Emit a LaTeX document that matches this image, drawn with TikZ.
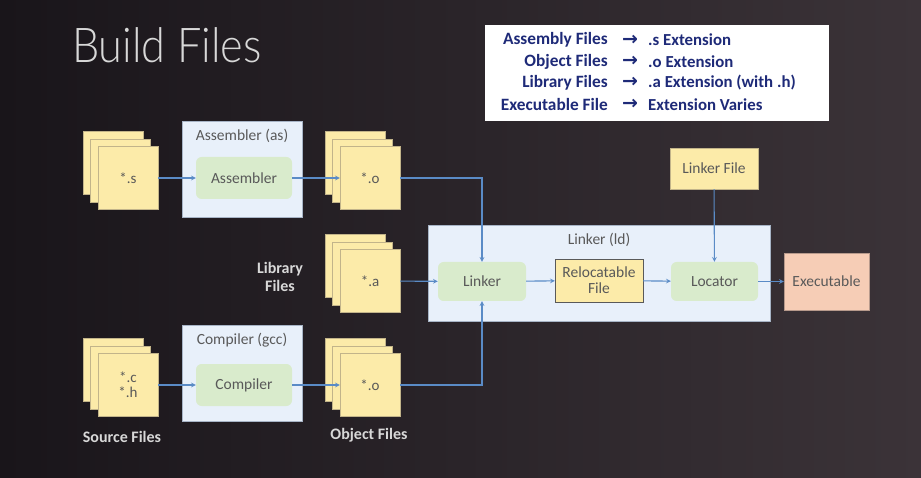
\documentclass[tikz,border=0pt]{standalone}
\usepackage{fontspec}
\setmainfont{Carlito}
\newfontfamily\titlefont{Lato Light}
\newfontfamily\arrowfont{DejaVu Sans}
\usepackage{tikz}
\usetikzlibrary{positioning}
\usetikzlibrary{arrows}
\definecolor{bgleft}{HTML}{19151A}
\definecolor{bgright}{HTML}{3B3338}
\definecolor{sheetfill}{HTML}{FCEBA9}
\definecolor{sheetline}{HTML}{C2B48A}
\definecolor{toolfill}{HTML}{E8F0FA}
\definecolor{toolline}{HTML}{A7B4C6}
\definecolor{stagefill}{HTML}{D9EBCC}
\definecolor{execfill}{HTML}{F6CDB6}
\definecolor{execline}{HTML}{B79A8C}
\definecolor{flowblue}{HTML}{5A8BC6}
\definecolor{boxtext}{HTML}{595959}
\definecolor{legendtext}{HTML}{1E2A78}
\definecolor{titlegrey}{HTML}{D8D8D8}

% a pile of three sheets, front one named #1
\newcommand{\filestack}[4]{%
	\node[sheet](#1b) at ({#2-15}, {#3-15}) {};
	\node[sheet](#1m) at ({#2-7.5}, {#3-7.5}) {};
	\node[sheet](#1) at (#2, #3) {#4};
}

\begin{document}
\begin{tikzpicture}[x=1pt, y=-1pt,
				sheet/.style={draw=sheetline, fill=sheetfill, minimum width=60pt, minimum height=63pt, inner sep=0pt, text=boxtext, font=\fontsize{15}{17}\selectfont},
				toolbox/.style={draw=toolline, fill=toolfill, minimum width=120pt, minimum height=96pt, inner sep=0pt},
				stage/.style={fill=stagefill, rounded corners=1.2ex, minimum width=96pt, minimum height=42pt, inner sep=0pt, text=boxtext, font=\fontsize{15.5}{18}\selectfont},
				boxlabel/.style={text=boxtext, font=\fontsize{15.5}{18}\selectfont},
				sidelabel/.style={text=titlegrey, font=\bfseries\fontsize{16}{18}\selectfont, align=center},
				flow/.style={draw=flowblue, line width=1.1pt, ->, >=stealth},
				every text node part/.style={align=center}]
				% background
				\useasboundingbox (0,0) rectangle (921,478);
				\shade[left color=bgleft, right color=bgright] (0,0) rectangle (921,478);
				
				\node[anchor=base west, text=titlegrey, font=\titlefont\fontsize{48}{52}\selectfont, inner sep=0pt, xscale=0.9](title) at (72, 63) {Build Files};
				
				% legend
				\node[fill=white, draw=white, minimum width=343pt, minimum height=95pt, inner sep=0pt](legend) at (656.5, 72.5) {};
				\foreach \i/\kind/\ext in {1/Assembly Files/.s Extension, 2/Object Files/.o Extension, 3/Library Files/.a Extension (with .h), 4/Executable File/Extension Varies}{
					\node[anchor=east, text=legendtext, font=\bfseries\fontsize{17.3}{18}\selectfont, inner sep=0pt](legk\i) at (608, {40+21.4*(\i-1)}) {\kind};
					\node[text=legendtext, font=\arrowfont\bfseries\fontsize{19}{20}\selectfont, inner sep=0pt](lega\i) at (630, {40+21.4*(\i-1)}) {→};
					\node[anchor=west, text=legendtext, font=\bfseries\fontsize{16.8}{18}\selectfont, inner sep=0pt](legv\i) at (648, {40+21.4*(\i-1)}) {\ext};
				}
				
				% assembler row
				\filestack{srcs}{128}{178}{*.s}
				\node[toolbox](asmbox) at (242, 169) {};
				\node[boxlabel](asmlbl) at (242, 136) {Assembler (as)};
				\node[stage](asm) at (244, 178) {Assembler};
				\filestack{objs}{370}{178}{*.o}
				
				% library row
				\node[sidelabel](liblbl) at (280, 277) {Library\\Files};
				\filestack{liba}{370}{281}{*.a}
				
				% compiler row
				\filestack{srcc}{128}{385}{*.c\\[-2pt]*.h}
				\node[toolbox](ccbox) at (242, 373) {};
				\node[boxlabel](cclbl) at (242, 340) {Compiler (gcc)};
				\node[stage](cc) at (244, 385) {Compiler};
				\filestack{objc}{370}{385}{*.o}
				\node[sidelabel](srclbl) at (122, 437) {Source Files};
				\node[sidelabel](objlbl) at (369, 435) {Object Files};
				
				% linker
				\node[draw=toolline, fill=toolfill, minimum width=342pt, minimum height=96pt](ldbox) at (599, 273) {};
				\node[boxlabel](ldlbl) at (599, 240) {Linker (ld)};
				\node[stage, minimum width=88pt, minimum height=39pt](linker) at (482, 281.5) {Linker};
				\node[draw=boxtext, fill=sheetfill, minimum width=88pt, minimum height=43pt, inner sep=0pt, text=boxtext, font=\fontsize{15.5}{16}\selectfont](reloc) at (599, 280.5) {Relocatable\\File};
				\node[stage, minimum width=87pt, minimum height=39pt](locator) at (714.5, 281.5) {Locator};
				\node[draw=sheetline, fill=sheetfill, minimum width=88pt, minimum height=41pt, inner sep=0pt, text=boxtext, font=\fontsize{15.5}{18}\selectfont](lnkfile) at (714, 168.5) {Linker File};
				\node[draw=execline, fill=execfill, minimum width=85pt, minimum height=57pt, inner sep=0pt, text=boxtext, font=\fontsize{15.5}{18}\selectfont](exec) at (826.5, 281.5) {Executable};
				
				% connectors
				\draw[flow] (srcs) -- (asm);
				\draw[flow] (asm) -- (objs);
				\draw[flow] (objs.east) -| (linker.north);
				\draw[flow] (liba) -- (linker);
				\draw[flow] (srcc) -- (cc);
				\draw[flow] (cc) -- (objc);
				\draw[flow] (objc.east) -| (linker.south);
				\draw[flow] (linker) -- (reloc);
				\draw[flow] (reloc) -- (locator);
				\draw[flow] (locator) -- (exec);
				\draw[flow] (lnkfile) -- (locator);
			\end{tikzpicture}
\end{document}
